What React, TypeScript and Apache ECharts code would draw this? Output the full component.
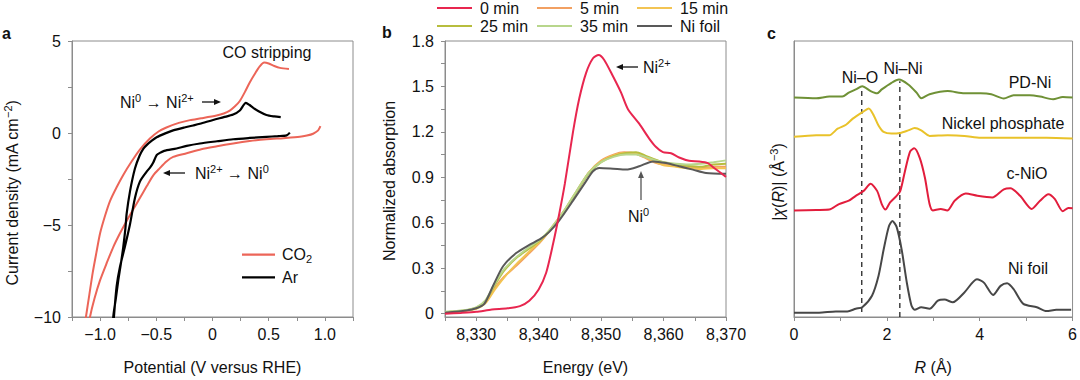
import React, { useEffect, useRef } from 'react';
import * as echarts from 'echarts';

const FONT = '"Liberation Sans", Arial, Helvetica, sans-serif';
const INK = '#111111';
const AXIS = '#8c8c8c';

// ---------------- Panel a : cyclic voltammetry ----------------
const potentialLabels = [-1, -0.5, 0, 0.5, 1];
const potentialTicks = [-1.25, -1, -0.75, -0.5, -0.25, 0, 0.25, 0.5, 0.75, 1, 1.25];
const currentLabels = [-10, -5, 0, 5];
const currentTicks = [-10, -7.5, -5, -2.5, 0, 2.5, 5];

const co2CathodicScan: [number, number][] = [
  [0.96, 0.37], [0.94, 0.14], [0.895, -0.04], [0.84, -0.14], [0.777, -0.21], [0.63, -0.28],
  [0.48, -0.34], [0.33, -0.44], [0.184, -0.57], [0.04, -0.72], [-0.1, -0.88], [-0.23, -1.1],
  [-0.35, -1.3], [-0.41, -1.55], [-0.47, -1.92], [-0.527, -2.3], [-0.586, -2.9], [-0.646, -3.53],
  [-0.705, -4.15], [-0.764, -4.78], [-0.823, -5.45], [-0.883, -6.2], [-0.94, -7.05], [-1.0, -8.0],
  [-1.05, -9.0], [-1.09, -10.0], [-1.11, -10.8],
];
const co2AnodicScan: [number, number][] = [
  [-1.145, -10.8], [-1.126, -10.0], [-1.096, -8.8], [-1.066, -7.6], [-1.033, -6.5], [-1.0, -5.45],
  [-0.956, -4.5], [-0.912, -3.7], [-0.853, -2.95], [-0.794, -2.28], [-0.72, -1.55], [-0.646, -0.9],
  [-0.557, -0.3], [-0.48, 0.08], [-0.41, 0.3], [-0.3, 0.55], [-0.2, 0.7], [-0.1, 0.8], [0.036, 0.95],
  [0.1, 1.06], [0.154, 1.22], [0.2, 1.45], [0.243, 1.74], [0.29, 2.25], [0.33, 2.73], [0.38, 3.25],
  [0.42, 3.62], [0.46, 3.83], [0.5, 3.78], [0.55, 3.64], [0.6, 3.54], [0.68, 3.48],
];
const arCathodicScan: [number, number][] = [
  [0.688, 0.02], [0.66, -0.13], [0.58, -0.17], [0.48, -0.21], [0.33, -0.27], [0.184, -0.34],
  [0.04, -0.45], [-0.112, -0.57], [-0.23, -0.7], [-0.32, -0.84], [-0.43, -0.97], [-0.468, -1.08],
  [-0.497, -1.2], [-0.527, -1.6], [-0.556, -1.88], [-0.586, -2.1], [-0.646, -2.64], [-0.69, -3.53],
  [-0.734, -4.96], [-0.78, -6.2], [-0.823, -7.27], [-0.853, -8.34], [-0.877, -10.0], [-0.885, -10.8],
];
const arAnodicScan: [number, number][] = [
  [-0.89, -10.8], [-0.883, -10.0], [-0.86, -9.0], [-0.838, -8.0], [-0.815, -7.1], [-0.794, -6.2],
  [-0.775, -5.2], [-0.764, -4.4], [-0.734, -3.17], [-0.69, -1.93], [-0.65, -1.25], [-0.616, -0.86],
  [-0.586, -0.66], [-0.54, -0.42], [-0.497, -0.23], [-0.42, -0.02], [-0.35, 0.14], [-0.25, 0.3],
  [-0.172, 0.41], [-0.112, 0.5], [0.006, 0.71], [0.1, 0.86], [0.184, 1.0], [0.243, 1.22],
  [0.297, 1.64], [0.33, 1.52], [0.36, 1.38], [0.41, 1.18], [0.48, 0.98], [0.55, 0.9], [0.607, 0.86],
];

// ---------------- Panel b : XANES ----------------
const energyLabels = [8330, 8340, 8350, 8360, 8370];
const energyTicks = [8325, 8330, 8335, 8340, 8345, 8350, 8355, 8360, 8365, 8370];
const absorptionLabels = [0, 0.3, 0.6, 0.9, 1.2, 1.5, 1.8];
const absorptionTicks = [0, 0.15, 0.3, 0.45, 0.6, 0.75, 0.9, 1.05, 1.2, 1.35, 1.5, 1.65, 1.8];

const xas0min: [number, number][] = [
  [8325, 0], [8327.5, 0.005], [8330, 0.012], [8332.5, 0.027], [8335, 0.035], [8337, 0.05],
  [8338.5, 0.085], [8340, 0.16], [8341.2, 0.27], [8342.3, 0.46], [8343.3, 0.66], [8344.2, 0.86],
  [8345.5, 1.2], [8346.5, 1.42], [8347.6, 1.59], [8348.7, 1.686], [8349.6, 1.708], [8350.5, 1.675],
  [8351.9, 1.567], [8353.2, 1.459], [8354.3, 1.35], [8356.1, 1.254], [8357.7, 1.156], [8358.8, 1.1],
  [8359.9, 1.066], [8361.2, 1.059], [8362.5, 1.031], [8364.1, 1.009], [8365.7, 1.005], [8367.1, 0.994],
  [8368.1, 0.962], [8370, 0.903],
];
const xas5min: [number, number][] = [
  [8325, 0.01], [8328, 0.02], [8330, 0.035], [8331.5, 0.075], [8333, 0.17], [8334.5, 0.245],
  [8336.5, 0.32], [8338.5, 0.4], [8340.4, 0.48], [8342, 0.56], [8344, 0.67], [8346, 0.8],
  [8348, 0.93], [8350, 1.01], [8352, 1.05], [8353.7, 1.065], [8355.2, 1.06], [8357, 1.03],
  [8358.5, 1.0], [8360, 0.985], [8362, 0.98], [8364, 0.965], [8366, 0.96], [8368, 0.97], [8370, 0.97],
];
const xas15min: [number, number][] = [
  [8325, 0.008], [8328, 0.018], [8330, 0.032], [8331.5, 0.07], [8333, 0.16], [8334.5, 0.24],
  [8336.5, 0.33], [8338.5, 0.41], [8340.4, 0.485], [8342, 0.565], [8344, 0.675], [8346, 0.805],
  [8348, 0.93], [8350, 1.005], [8352, 1.045], [8354, 1.06], [8355.6, 1.055], [8357, 1.035],
  [8358.5, 1.005], [8360, 0.98], [8362, 0.97], [8364, 0.96], [8366, 0.955], [8368, 0.96], [8370, 0.96],
];
const xas25min: [number, number][] = [
  [8325, 0.01], [8328, 0.02], [8330, 0.04], [8331.5, 0.085], [8333, 0.19], [8334.5, 0.285],
  [8336.5, 0.37], [8338.5, 0.43], [8340.4, 0.49], [8342, 0.56], [8344, 0.67], [8346, 0.8],
  [8348, 0.925], [8350, 1.0], [8352, 1.04], [8354, 1.06], [8355.6, 1.065], [8357, 1.045],
  [8358.5, 1.02], [8360, 1.0], [8362, 0.985], [8364, 0.975], [8366, 0.97], [8368, 0.985], [8370, 0.99],
];
const xas35min: [number, number][] = [
  [8325, 0.012], [8328, 0.022], [8330, 0.042], [8331.5, 0.09], [8333, 0.2], [8334.5, 0.295],
  [8336.5, 0.375], [8338.5, 0.44], [8340.4, 0.495], [8342, 0.565], [8344, 0.675], [8346, 0.805],
  [8348, 0.93], [8350, 1.0], [8352, 1.035], [8354, 1.05], [8355.6, 1.05], [8357, 1.035],
  [8358.5, 1.015], [8360, 1.0], [8362, 0.99], [8364, 0.985], [8366, 0.99], [8368, 1.0], [8370, 1.012],
];
const xasNiFoil: [number, number][] = [
  [8325, 0.006], [8328.4, 0.021], [8330, 0.036], [8331.3, 0.065], [8332.7, 0.184], [8334.3, 0.313],
  [8336.4, 0.4], [8338.5, 0.454], [8340.4, 0.497], [8341.7, 0.54], [8343.3, 0.616], [8345.5, 0.746],
  [8347.6, 0.875], [8348.7, 0.94], [8349.7, 0.962], [8351.9, 0.957], [8354, 0.951], [8356.1, 0.973],
  [8358.3, 1.005], [8360.4, 0.994], [8362.5, 0.973], [8364.7, 0.951], [8366.8, 0.929], [8370, 0.923],
];

// ---------------- Panel c : EXAFS R-space (stacked, offset units) ----------------
const radiusLabels = [0, 2, 4, 6];
const radiusTicks = [0, 1, 2, 3, 4, 5, 6];

const ftPdNi: [number, number][] = [
  [0, 223.4], [0.48, 222.7], [0.76, 224.4], [1.04, 224.4], [1.18, 228.4], [1.33, 231.7], [1.47, 235],
  [1.65, 230], [1.79, 227.7], [1.89, 231.7], [2.1, 238.4], [2.26, 241.7], [2.46, 236.7], [2.64, 228.4],
  [2.74, 222.7], [2.92, 226.7], [3.31, 230], [3.67, 227.7], [4.02, 227.7], [4.25, 226.7], [4.52, 222.4],
  [4.73, 225.7], [5.08, 225.7], [5.3, 224.4], [5.58, 221.7], [5.79, 224], [6, 223.4],
];
const ftNickelPhosphate: [number, number][] = [
  [0, 183.4], [0.48, 185], [0.76, 185], [0.94, 191.7], [1.12, 195.7], [1.26, 201.7], [1.47, 208.4],
  [1.61, 212.4], [1.72, 205], [1.82, 195], [1.93, 188.4], [2.1, 186.7], [2.29, 187.4], [2.46, 190],
  [2.6, 192.4], [2.74, 190], [2.92, 184.4], [3.31, 185], [3.67, 184.4], [4.02, 182.4], [4.73, 182.4],
  [5.44, 182.4], [6, 181.7],
];
const ftCNiO: [number, number][] = [
  [0, 108.4], [0.48, 109], [0.76, 109.4], [0.97, 115], [1.18, 118.4], [1.33, 123.4], [1.5, 128.4],
  [1.65, 135.7], [1.79, 128.4], [1.89, 115], [1.97, 109.4], [2.07, 116.7], [2.21, 123.4], [2.29, 128.4],
  [2.39, 148.4], [2.5, 168.4], [2.59, 171.7], [2.71, 161.7], [2.82, 141.7], [2.92, 115], [2.99, 108.4],
  [3.16, 110], [3.3, 108.4], [3.46, 118.4], [3.7, 125.7], [3.95, 123.4], [4.27, 121.7], [4.52, 130],
  [4.66, 131], [4.87, 123.4], [5.12, 110], [5.3, 118.4], [5.48, 125], [5.62, 120], [5.79, 107.7],
  [5.91, 111], [6, 110.7],
];
const ftNiFoil: [number, number][] = [
  [0, 4.4], [0.54, 4.4], [0.9, 5.7], [1.15, 5.7], [1.33, 8.4], [1.47, 10], [1.68, 21.7], [1.82, 41.7],
  [1.93, 68.4], [2.04, 91.7], [2.12, 97.7], [2.21, 91.7], [2.32, 68.4], [2.43, 35], [2.53, 11.7],
  [2.6, 7.4], [2.74, 10], [2.92, 8.4], [3.1, 16.7], [3.24, 17.7], [3.42, 15], [3.67, 25], [3.94, 38.4],
  [4.09, 35], [4.29, 22.4], [4.45, 31.7], [4.59, 34.4], [4.73, 28.4], [4.94, 13.4], [5.23, 10],
  [5.44, 6], [5.65, 7.4], [5.97, 7.4],
];
const niOGuide: [number, number][] = [[1.46, 5], [1.46, 235]];
const niNiGuide: [number, number][] = [[2.28, 0], [2.28, 240]];

// ---------------- helpers ----------------
const fmtNum = (v: number) => (v === 0 ? '0' : String(v).replace('-', '\u2212'));
const fmtFixed1 = (v: number) => (v === 0 ? '0' : v.toFixed(1).replace('-', '\u2212'));
const fmtEnergy = (v: number) => v.toLocaleString('en-US');

const labelStyle = { color: INK, fontSize: 16, fontFamily: FONT };

function xAxisOf(gridIndex: number, min: number, max: number, labels: number[], ticks: number[], fmt: any, name: string, rich?: any) {
  return {
    type: 'value', gridIndex, min, max,
    axisLine: { show: true, onZero: false, lineStyle: { color: AXIS, width: 1 } },
    axisTick: { show: true, length: 4, inside: false, lineStyle: { color: AXIS, width: 1 }, customValues: ticks },
    axisLabel: { ...labelStyle, margin: 9, customValues: labels, formatter: fmt },
    splitLine: { show: false },
    name, nameLocation: 'middle', nameGap: 42,
    nameTextStyle: { color: INK, fontSize: 16, fontFamily: FONT, ...(rich ? { rich } : {}) },
  };
}
function yAxisOf(gridIndex: number, min: number, max: number, labels: number[] | null, ticks: number[] | null, fmt: any) {
  return {
    type: 'value', gridIndex, min, max,
    axisLine: { show: true, onZero: false, lineStyle: { color: AXIS, width: 1 } },
    axisTick: ticks ? { show: true, length: 4, lineStyle: { color: AXIS, width: 1 }, customValues: ticks } : { show: false },
    axisLabel: labels ? { ...labelStyle, margin: 11, customValues: labels, formatter: fmt } : { show: false },
    splitLine: { show: false },
  };
}
function lineSeries(name: string, data: [number, number][], color: string, grid: number, width = 2, extra: any = {}) {
  return {
    type: 'line', name, data, xAxisIndex: grid, yAxisIndex: grid,
    symbol: 'none', smooth: 0.25, clip: true,
    lineStyle: { color, width }, itemStyle: { color },
    emphasis: { disabled: true }, silent: true,
    ...extra,
  };
}
function legendOf(name: string, left: number, top: number, extra: any = {}) {
  return {
    data: [name], left, top, orient: 'horizontal', selectedMode: false, padding: 0,
    icon: 'rect', itemWidth: 35, itemHeight: 2.2, itemGap: 0,
    textStyle: { color: INK, fontSize: 16, fontFamily: FONT, lineHeight: 14, padding: [0, 0, 0, 3] },
    ...extra,
  };
}

const F16 = `16px ${FONT}`;
const F11 = `11px ${FONT}`;
const richBase = (color = INK) => ({
  n: { font: F16, fill: color, lineHeight: 20 },
  s: { font: F11, fill: color, lineHeight: 10, verticalAlign: 'top' },
  d: { font: F11, fill: color, lineHeight: 10, verticalAlign: 'bottom' },
  i: { font: `italic 16px ${FONT}`, fill: color, lineHeight: 20 },
});
function text(x: number, y: number, t: string, align = 'left', extra: any = {}, rotation = 0) {
  return {
    type: 'text', x, y, rotation, z: 20, silent: true,
    style: { text: t, font: F16, fill: INK, align, verticalAlign: 'middle', textAlign: align, textVerticalAlign: 'middle', ...extra },
  };
}
function richText(x: number, y: number, t: string, align = 'left', color = INK, rotation = 0) {
  return {
    type: 'text', x, y, rotation, z: 20, silent: true,
    style: { text: t, rich: richBase(color), font: F16, fill: color, align, verticalAlign: 'middle', textAlign: align, textVerticalAlign: 'middle' },
  };
}
function arrow(x1: number, y1: number, x2: number, y2: number, color = INK, head = 7, width = 1.3) {
  const dx = x2 - x1, dy = y2 - y1, L = Math.hypot(dx, dy);
  const ux = dx / L, uy = dy / L;
  const bx = x2 - ux * head, by = y2 - uy * head;
  const px = -uy * head * 0.42, py = ux * head * 0.42;
  return [
    { type: 'line', z: 20, silent: true, shape: { x1, y1, x2: bx + ux, y2: by + uy }, style: { stroke: color, lineWidth: width } },
    { type: 'polygon', z: 20, silent: true, shape: { points: [[x2, y2], [bx + px, by + py], [bx - px, by - py]] }, style: { fill: color } },
  ];
}

export default function App() {
  const ref = useRef<HTMLDivElement>(null);
  useEffect(() => {
    if (!ref.current) return;
    const chart = echarts.init(ref.current, null, { renderer: 'svg' });
    const grids = [
      { left: 72, top: 41, width: 281, height: 281 },
      { left: 445, top: 41, width: 281, height: 281 },
      { left: 794, top: 41, width: 282, height: 281 },
    ].map((g) => ({ ...g, show: true, borderColor: AXIS, borderWidth: 1, backgroundColor: 'transparent' }));

    const option: any = {
      animation: false,
      textStyle: { fontFamily: FONT },
      grid: grids,
      xAxis: [
        xAxisOf(0, -1.25, 1.25, potentialLabels, potentialTicks, fmtFixed1, 'Potential (V versus RHE)'),
        xAxisOf(1, 8325, 8370, energyLabels, energyTicks, fmtEnergy, 'Energy (eV)'),
        xAxisOf(2, 0, 6, radiusLabels, radiusTicks, fmtNum, '{i|R}{n| (Å)}', {
          i: { fontStyle: 'italic', fontSize: 16, fontFamily: FONT, color: INK },
          n: { fontSize: 16, fontFamily: FONT, color: INK },
        }),
      ],
      yAxis: [
        yAxisOf(0, -10, 5, currentLabels, currentTicks, fmtNum),
        yAxisOf(1, -0.022, 1.8, absorptionLabels, absorptionTicks, fmtFixed1),
        yAxisOf(2, 0, 281, null, null, null),
      ],
      legend: [
        legendOf('CO2', 242, 246.7, {
          itemWidth: 33,
          formatter: () => '{n|CO}{d|2}',
          textStyle: {
            padding: [0, 0, 0, 2],
            rich: {
              n: { fontSize: 16, fontFamily: FONT, color: INK, lineHeight: 20 },
              d: { fontSize: 11, fontFamily: FONT, color: INK, lineHeight: 10, verticalAlign: 'bottom' },
            },
          },
        }),
        legendOf('Ar', 242, 267.3, {
          itemWidth: 33,
          textStyle: { color: INK, fontSize: 16, fontFamily: FONT, lineHeight: 20, padding: [0, 0, 0, 2] },
        }),
        legendOf('0 min', 437, 0),
        legendOf('5 min', 537, 0),
        legendOf('15 min', 637, 0),
        legendOf('25 min', 437, 18),
        legendOf('35 min', 537, 18),
        legendOf('Ni foil', 637, 18),
      ],
      series: [
        lineSeries('CO2', [...co2CathodicScan, ...co2AnodicScan], '#ec6558', 0, 2),
        lineSeries('Ar', [...arCathodicScan, ...arAnodicScan], '#000000', 0, 2.2),
        lineSeries('5 min', xas5min, '#f2a062', 1, 2),
        lineSeries('15 min', xas15min, '#f3c453', 1, 2),
        lineSeries('25 min', xas25min, '#b7bd3d', 1, 2),
        lineSeries('35 min', xas35min, '#b8d68c', 1, 2),
        lineSeries('Ni foil', xasNiFoil, '#595959', 1, 2),
        lineSeries('0 min', xas0min, '#e8264f', 1, 2),
        lineSeries('Ni–O guide', niOGuide, '#111111', 2, 1.2, { smooth: false, lineStyle: { color: '#111', width: 1.2, type: [5, 4] } }),
        lineSeries('Ni–Ni guide', niNiGuide, '#111111', 2, 1.2, { smooth: false, lineStyle: { color: '#111', width: 1.2, type: [5, 4] } }),
        lineSeries('PD-Ni', ftPdNi, '#6f9136', 2, 2),
        lineSeries('Nickel phosphate', ftNickelPhosphate, '#e9c22a', 2, 2),
        lineSeries('c-NiO', ftCNiO, '#e21d3c', 2, 2),
        lineSeries('Ni foil (EXAFS)', ftNiFoil, '#474747', 2, 2),
      ],
      graphic: [
        // panel letters
        text(2, 33, 'a', 'left', { font: `bold 16px ${FONT}` }),
        text(382, 32.5, 'b', 'left', { font: `bold 16px ${FONT}` }),
        text(767, 33, 'c', 'left', { font: `bold 16px ${FONT}` }),
        // y-axis names
        richText(12, 193, '{n|Current density (mA cm}{s|\u22122}{n|)}', 'center', INK, Math.PI / 2),
        text(389, 181, 'Normalized absorption', 'center', {}, Math.PI / 2),
        richText(778, 182, '{n||}{i|χ}{n|(}{i|R}{n|)| (Å}{s|\u22123}{n|)}', 'center', INK, Math.PI / 2),
        // panel a annotations
        text(267, 52, 'CO stripping', 'center'),
        richText(120, 102, '{n|Ni}{s|0}{n| → Ni}{s|2+}', 'left'),
        ...arrow(202, 102, 221, 102),
        ...arrow(185, 173, 163, 173),
        richText(195, 173, '{n|Ni}{s|2+}{n| → Ni}{s|0}', 'left'),
        // panel b annotations
        ...arrow(638, 67, 616, 67),
        richText(643, 67, '{n|Ni}{s|2+}', 'left'),
        ...arrow(641, 200, 641, 171, '#555555'),
        richText(638.5, 216, '{n|Ni}{s|0}', 'center'),
        // panel c annotations
        text(860, 77, 'Ni–O', 'center'),
        text(903, 68, 'Ni–Ni', 'center'),
        text(1030, 82, 'PD-Ni', 'center'),
        text(1003, 123, 'Nickel phosphate', 'center'),
        text(1027, 173, 'c-NiO', 'center'),
        text(1028, 268, 'Ni foil', 'center'),
      ],
    };
    chart.setOption(option);
    return () => chart.dispose();
  }, []);
  return <div ref={ref} style={{ position: 'fixed', left: 0, top: 0, width: 1080, height: 380, background: '#fff' }} />;
}
